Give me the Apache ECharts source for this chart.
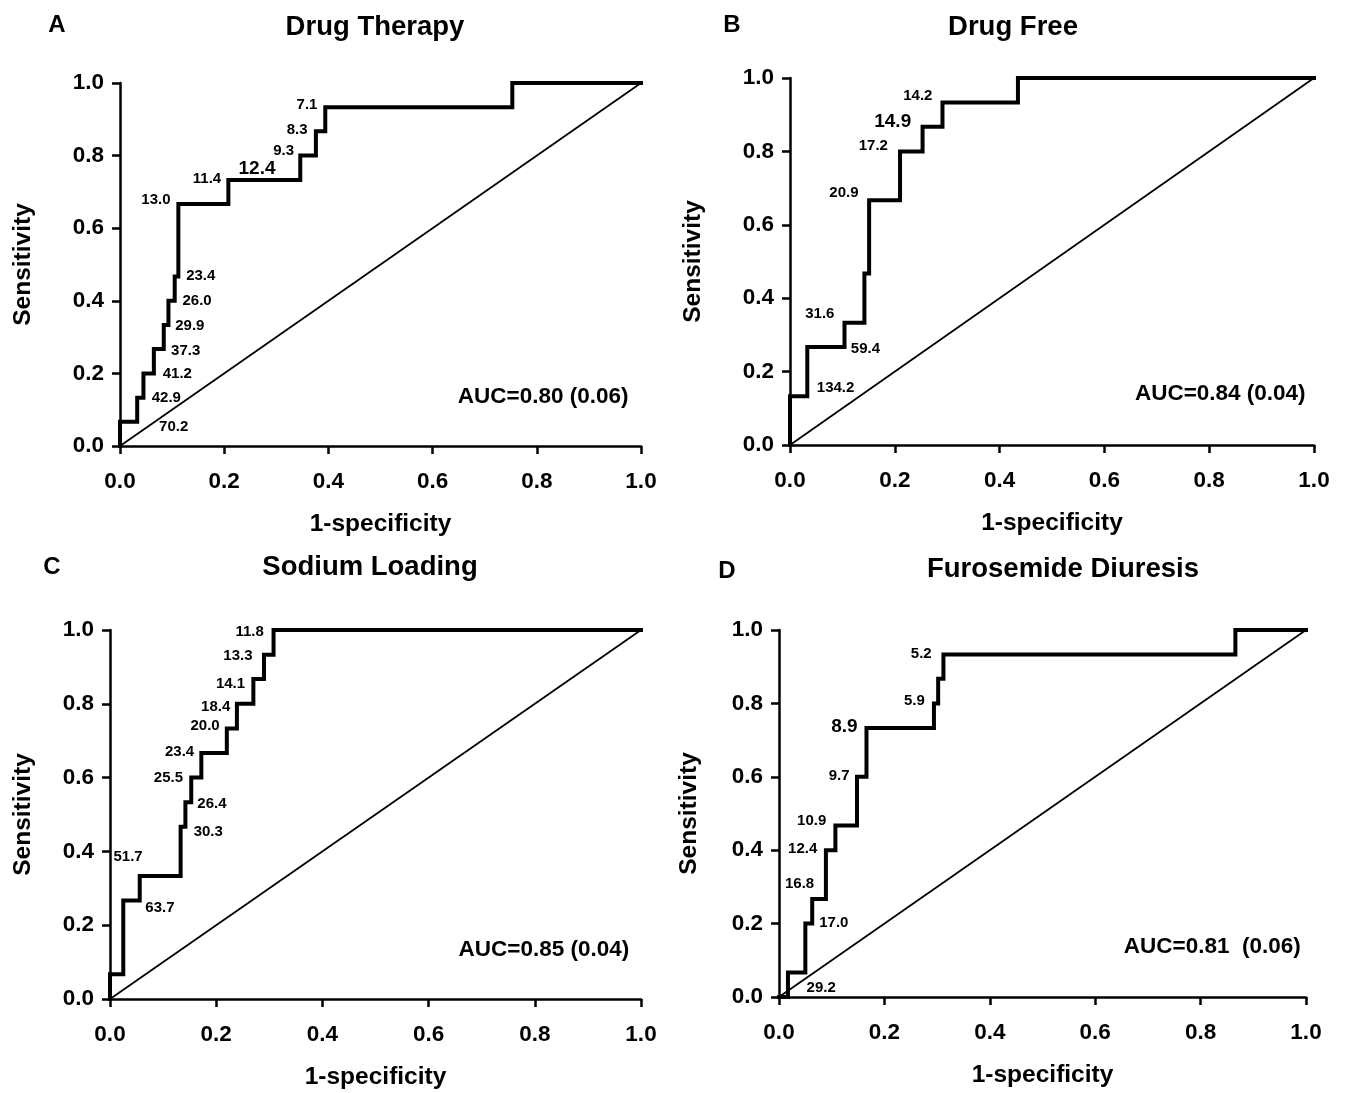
<!DOCTYPE html>
<html><head><meta charset="utf-8">
<script src="https://cdn.jsdelivr.net/npm/echarts@6/dist/echarts.min.js"></script>
<style>html,body{margin:0;padding:0;background:#fff}#c{width:1345px;height:1093px}</style>
</head><body><div id="c"></div>
<script>
// ---- Data ----
const panelLetters = ['A', 'B', 'C', 'D'];
const panelTitles = ['Drug Therapy', 'Drug Free', 'Sodium Loading', 'Furosemide Diuresis'];
const xTicks = ['0.0', '0.2', '0.4', '0.6', '0.8', '1.0'];
const aucTexts = ['AUC=0.80 (0.06)', 'AUC=0.84 (0.04)', 'AUC=0.85 (0.04)', 'AUC=0.81  (0.06)'];
const diagX = [0, 1];
const diagY = [0, 1];

const fprA = [0, 0, 0.033, 0.033, 0.045, 0.045, 0.065, 0.065, 0.084, 0.084, 0.093, 0.093, 0.105, 0.105, 0.112, 0.112, 0.208, 0.208, 0.346, 0.346, 0.376, 0.376, 0.394, 0.394, 0.753, 0.753, 1];
const tprA = [0, 0.067, 0.067, 0.133, 0.133, 0.2, 0.2, 0.267, 0.267, 0.333, 0.333, 0.4, 0.4, 0.467, 0.467, 0.667, 0.667, 0.733, 0.733, 0.8, 0.8, 0.867, 0.867, 0.933, 0.933, 1, 1];
const fprB = [0, 0, 0.033, 0.033, 0.104, 0.104, 0.142, 0.142, 0.151, 0.151, 0.21, 0.21, 0.253, 0.253, 0.291, 0.291, 0.435, 0.435, 1];
const tprB = [0, 0.133, 0.133, 0.267, 0.267, 0.333, 0.333, 0.467, 0.467, 0.667, 0.667, 0.8, 0.8, 0.867, 0.867, 0.933, 0.933, 1, 1];
const fprC = [0, 0, 0.025, 0.025, 0.056, 0.056, 0.133, 0.133, 0.142, 0.142, 0.153, 0.153, 0.172, 0.172, 0.22, 0.22, 0.239, 0.239, 0.27, 0.27, 0.29, 0.29, 0.308, 0.308, 1];
const tprC = [0, 0.067, 0.067, 0.267, 0.267, 0.333, 0.333, 0.467, 0.467, 0.533, 0.533, 0.6, 0.6, 0.667, 0.667, 0.733, 0.733, 0.8, 0.8, 0.867, 0.867, 0.933, 0.933, 1, 1];
const fprD = [0, 0.017, 0.017, 0.05, 0.05, 0.063, 0.063, 0.089, 0.089, 0.107, 0.107, 0.148, 0.148, 0.166, 0.166, 0.294, 0.294, 0.302, 0.302, 0.312, 0.312, 0.866, 0.866, 1];
const tprD = [0, 0, 0.067, 0.067, 0.2, 0.2, 0.267, 0.267, 0.4, 0.4, 0.467, 0.467, 0.6, 0.6, 0.733, 0.733, 0.8, 0.8, 0.867, 0.867, 0.933, 0.933, 1, 1];

// cut-off annotations (text, placed in data units of 1-specificity / sensitivity)
const cutA = ['7.1', '8.3', '9.3', '12.4', '11.4', '13.0', '23.4', '26.0', '29.9', '37.3', '41.2', '42.9', '70.2'];
const cutAx = [0.359, 0.340, 0.314, 0.263, 0.167, 0.069, 0.155, 0.148, 0.134, 0.126, 0.110, 0.089, 0.103];
const cutAy = [0.940, 0.872, 0.812, 0.765, 0.737, 0.677, 0.469, 0.399, 0.332, 0.261, 0.200, 0.133, 0.053];
const cutB = ['14.2', '14.9', '17.2', '20.9', '31.6', '59.4', '134.2'];
const cutBx = [0.244, 0.196, 0.159, 0.103, 0.057, 0.144, 0.087];
const cutBy = [0.950, 0.882, 0.816, 0.687, 0.356, 0.261, 0.157];
const cutC = ['11.8', '13.3', '14.1', '18.4', '20.0', '23.4', '25.5', '26.4', '30.3', '51.7', '63.7'];
const cutCx = [0.263, 0.241, 0.227, 0.199, 0.179, 0.131, 0.110, 0.192, 0.185, 0.034, 0.094];
const cutCy = [0.994, 0.930, 0.855, 0.792, 0.739, 0.671, 0.599, 0.528, 0.454, 0.384, 0.246];
const cutD = ['5.2', '5.9', '8.9', '9.7', '10.9', '12.4', '16.8', '17.0', '29.2'];
const cutDx = [0.270, 0.257, 0.124, 0.114, 0.062, 0.045, 0.039, 0.104, 0.080];
const cutDy = [0.935, 0.806, 0.735, 0.602, 0.479, 0.404, 0.307, 0.201, 0.024];
const bigCuts = [['12.4'], ['14.9'], [], ['8.9']];

const aucX = [0.976, 0.984, 0.978, 0.990];
const aucY = [0.135, 0.139, 0.133, 0.136];

// ---- Layout / style ----
const FONT = '"Liberation Sans", Arial, Helvetica, sans-serif';
const grids = [
  {left: 120, top: 83, width: 521, height: 363},
  {left: 790, top: 78, width: 524, height: 367},
  {left: 110, top: 630, width: 531, height: 369},
  {left: 779, top: 630, width: 527, height: 367}
];
const yNameGap = [84, 84, 74, 77];
const titlePos = [[370, 8], [1008, 8], [365, 548], [1058, 550]];
const letterPos = [[52, 8], [727, 8], [47, 550], [722, 554]];

const rocX = [fprA, fprB, fprC, fprD];
const rocY = [tprA, tprB, tprC, tprD];
const cuts = [cutA, cutB, cutC, cutD];
const cutsX = [cutAx, cutBx, cutCx, cutDx];
const cutsY = [cutAy, cutBy, cutCy, cutDy];

const option = {
  animation: false,
  backgroundColor: '#fff',
  textStyle: {fontFamily: FONT},
  title: [],
  grid: grids.map(g => Object.assign({containLabel: false}, g)),
  xAxis: [], yAxis: [], series: []
};

const axisCommon = {
  type: 'value', min: 0, max: 1, interval: 0.2,
  axisLine: {show: true, lineStyle: {color: '#000', width: 2.5}},
  axisTick: {show: true, inside: false, length: 8, lineStyle: {color: '#000', width: 2.5}},
  splitLine: {show: false},
  axisLabel: {color: '#000', fontSize: 22.5, fontWeight: 'bold', fontFamily: FONT,
              formatter: v => xTicks[Math.round(v * 5)]},
  nameTextStyle: {color: '#000', fontSize: 24.5, fontWeight: 'bold', fontFamily: FONT},
  nameLocation: 'middle'
};

const txt = (size) => ({color: '#000', fontWeight: 'bold', fontFamily: FONT, fontSize: size,
  textBorderWidth: 0, textShadowBlur: 0, opacity: 1});

for (let i = 0; i < 4; i++) {
  option.title.push({text: panelTitles[i], left: titlePos[i][0], top: titlePos[i][1], textAlign: 'center',
    textStyle: {fontSize: 27.5, fontWeight: 'bold', color: '#000', fontFamily: FONT}});
  option.title.push({text: panelLetters[i], left: letterPos[i][0], top: letterPos[i][1], textAlign: 'center',
    textStyle: {fontSize: 24, fontWeight: 'bold', color: '#000', fontFamily: FONT}});

  option.xAxis.push(Object.assign({}, axisCommon, {gridIndex: i, name: '1-specificity', nameGap: 66,
    axisLabel: Object.assign({}, axisCommon.axisLabel, {margin: 24})}));
  option.yAxis.push(Object.assign({}, axisCommon, {gridIndex: i, name: 'Sensitivity', nameGap: yNameGap[i],
    axisLabel: Object.assign({}, axisCommon.axisLabel, {margin: 16})}));

  // diagonal reference
  option.series.push({type: 'line', xAxisIndex: i, yAxisIndex: i, symbol: 'none', silent: true,
    data: diagX.map((x, k) => [x, diagY[k]]), lineStyle: {color: '#000', width: 1.8}, z: 2});
  // ROC curve
  option.series.push({type: 'line', xAxisIndex: i, yAxisIndex: i, symbol: 'none', silent: true,
    data: rocX[i].map((x, k) => [x, rocY[i][k]]), lineStyle: {color: '#000', width: 4, join: 'miter', cap: 'square'}, z: 3});
  // cut-off labels
  option.series.push({type: 'scatter', xAxisIndex: i, yAxisIndex: i, silent: true, symbolSize: 1,
    itemStyle: {color: 'rgba(255,255,255,0)'}, z: 4,
    data: cuts[i].map((t, k) => {
      const big = bigCuts[i].indexOf(t) >= 0;
      return {value: [cutsX[i][k], cutsY[i][k]], name: t,
        label: Object.assign({show: true, position: 'inside', formatter: t}, txt(big ? 19 : 15))};
    })});
  // AUC text
  option.series.push({type: 'scatter', xAxisIndex: i, yAxisIndex: i, silent: true, symbolSize: 1,
    itemStyle: {color: 'rgba(255,255,255,0)'}, z: 4,
    data: [{value: [aucX[i], aucY[i]], label: Object.assign({show: true, position: 'inside', align: 'right',
      formatter: aucTexts[i]}, txt(22.5))}]});
}

const chart = echarts.init(document.getElementById('c'), null, {renderer: 'canvas'});
chart.setOption(option);
</script>
</body></html>
